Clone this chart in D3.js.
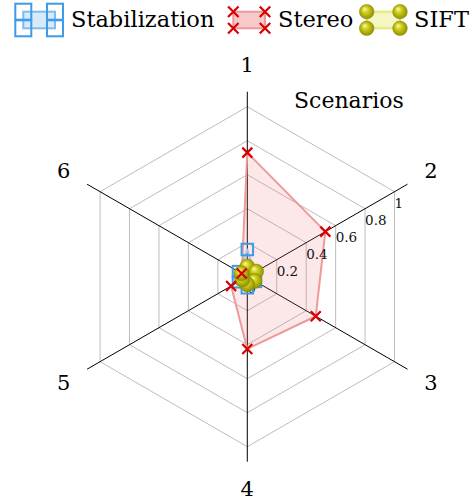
<!DOCTYPE html>
<html><head><meta charset="utf-8">
<script src="https://cdn.jsdelivr.net/npm/d3@7"></script>
<style>body{margin:0;background:#fff}svg{display:block}</style>
</head><body>
<svg id="c" width="476" height="502"></svg>
<script>
const axes = ["1","2","3","4","5","6"];
const tickValues = [0, 0.2, 0.4, 0.6, 0.8, 1];
const tickLabels = ["0", "0.2", "0.4", "0.6", "0.8", "1"];
const seriesNames = ["Stabilization", "Stereo", "SIFT"];
const stabilization = [0.16, 0.05, 0.055, 0.065, 0.06, 0.06];
const stereo = [0.73, 0.53, 0.465, 0.425, 0.11, 0.038];
const sift = [0.06, 0.06, 0.05, 0.045, 0.035, 0.04];

const svg = d3.select("#c");
const cx = 247.3, cy = 276.7, R = 170, axisLen = 185, labelR = 212;
const r = d3.scaleLinear().domain([0, 1]).range([0, R]);
const ang = d3.scaleLinear().domain([0, axes.length]).range([0, 2 * Math.PI]);
const pt = (i, v) => [cx + r(v) * Math.sin(ang(i)), cy - r(v) * Math.cos(ang(i))];

const defs = svg.append("defs");
const gr = defs.append("radialGradient").attr("id", "ball").attr("cx", "0.5").attr("cy", "0.5").attr("r", "0.6").attr("fx", "0.35").attr("fy", "0.3");
gr.append("stop").attr("offset", "0%").attr("stop-color", "#fbfbb8");
gr.append("stop").attr("offset", "35%").attr("stop-color", "#d0d01c");
gr.append("stop").attr("offset", "100%").attr("stop-color", "#7f7f00");

const g = svg.append("g").attr("transform", `translate(${cx},${cy})`);
const ring = d3.lineRadial().angle((d, i) => ang(i)).radius(d => r(d)).curve(d3.curveLinearClosed);
tickValues.filter(t => t > 0).forEach(t => {
  g.append("path").attr("d", ring(axes.map(() => t))).attr("fill", "none").attr("stroke", "#bdbdbd").attr("stroke-width", 1);
});
axes.forEach((a, i) => {
  g.append("line").attr("x1", 0).attr("y1", 0)
    .attr("x2", axisLen * Math.sin(ang(i))).attr("y2", -axisLen * Math.cos(ang(i)))
    .attr("stroke", "#000").attr("stroke-width", 1);
});

const areaLine = d3.lineRadial().angle((d, i) => ang(i)).radius(d => r(d)).curve(d3.curveLinearClosed);
const styles = [
  {data: stabilization, fill: "rgba(120,185,240,0.25)", stroke: "#a8d2f5"},
  {data: stereo, fill: "rgba(235,120,120,0.17)", stroke: "#ee9a9a"},
  {data: sift, fill: "rgba(230,230,90,0.25)", stroke: "#e8e878"}
];
styles.forEach(s => {
  g.append("path").attr("d", areaLine(s.data)).attr("fill", s.fill).attr("stroke", s.stroke).attr("stroke-width", 2).attr("stroke-linejoin", "round");
});

tickValues.forEach((t, k) => {
  const [x, y] = pt(1, t);
  svg.append("text").attr("x", x).attr("y", y + 16.5).text(tickLabels[k])
    .attr("font-family", "DejaVu Serif").attr("font-size", 13.5).attr("fill", "#111");
});

function square(sel, x, y, s) {
  sel.append("rect").attr("x", x - s / 2).attr("y", y - s / 2).attr("width", s).attr("height", s)
    .attr("fill", "none").attr("stroke", "#3d9be9").attr("stroke-width", 2);
}
function cross(sel, x, y, s) {
  sel.append("path").attr("d", `M${x - s / 2},${y - s / 2}L${x + s / 2},${y + s / 2}M${x - s / 2},${y + s / 2}L${x + s / 2},${y - s / 2}`)
    .attr("stroke", "#d80000").attr("stroke-width", 2.2).attr("fill", "none");
}
function ball(sel, x, y, rad) {
  sel.append("circle").attr("cx", x).attr("cy", y).attr("r", rad).attr("fill", "url(#ball)").attr("stroke", "#8a8a00").attr("stroke-width", 0.5);
}

stabilization.forEach((v, i) => { const [x, y] = pt(i, v); square(svg, x, y, 11.5); });
sift.forEach((v, i) => { const [x, y] = pt(i, v); ball(svg, x, y, 7.5); });
stereo.forEach((v, i) => { const [x, y] = pt(i, v); cross(svg, x, y, 10); });

axes.forEach((a, i) => {
  svg.append("text").attr("x", cx + labelR * Math.sin(ang(i))).attr("y", cy - labelR * Math.cos(ang(i)))
    .attr("text-anchor", "middle").attr("dominant-baseline", "central")
    .attr("font-family", "DejaVu Serif").attr("font-size", 21).text(a);
});
svg.append("text").attr("x", 294).attr("y", 108).attr("font-family", "DejaVu Serif").attr("font-size", 22).text("Scenarios");

const lg = svg.append("g");
const leg = [
  {x0: 23.3, x1: 55, tx: 71, fill: "rgba(120,185,240,0.3)", stroke: "#7fbcee", mark: (a, b) => square(lg, a, b, 16)},
  {x0: 233.3, x1: 265, tx: 278, fill: "rgba(235,120,120,0.4)", stroke: "#ee9a9a", mark: (a, b) => cross(lg, a, b, 10.5)},
  {x0: 366.7, x1: 400, tx: 414, fill: "rgba(230,230,90,0.35)", stroke: "#e8e878", mark: (a, b) => ball(lg, a, b, 7.3)}
];
leg.forEach((l, k) => {
  lg.append("rect").attr("x", l.x0).attr("y", 11.7).attr("width", l.x1 - l.x0).attr("height", 16.6)
    .attr("fill", l.fill).attr("stroke", l.stroke).attr("stroke-width", 2);
  [[l.x0, 11.7], [l.x0, 28.3], [l.x1, 11.7], [l.x1, 28.3]].forEach(p => l.mark(p[0], p[1]));
  lg.append("text").attr("x", l.tx).attr("y", 27).attr("font-family", "DejaVu Serif").attr("font-size", 22.5).text(seriesNames[k]);
});
</script>
</body></html>
